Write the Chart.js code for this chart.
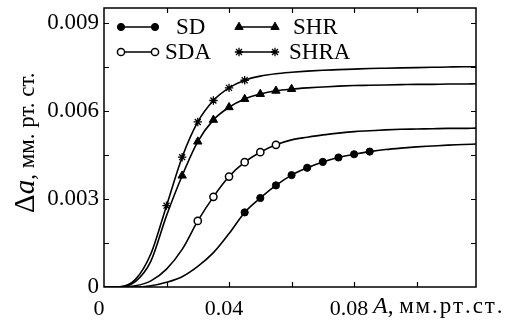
<!DOCTYPE html>
<html>
<head>
<meta charset="utf-8">
<script src="https://cdn.jsdelivr.net/npm/chart.js@4/dist/chart.umd.min.js"></script>
<style>
html,body{margin:0;padding:0;background:#fff;}
#wrap{width:505px;height:324px;}
</style>
</head>
<body>
<div id="wrap"><canvas id="c" width="505" height="324"></canvas></div>
<script>
// ---- data ----
const xValues = [0, 0.005, 0.01, 0.015, 0.02, 0.025, 0.03, 0.035, 0.04, 0.045, 0.05, 0.055, 0.06,
                 0.065, 0.07, 0.075, 0.08, 0.085, 0.09, 0.095, 0.1, 0.105, 0.11, 0.115, 0.119];
const sdValues   = [0, 0, 0, 0.00004, 0.00016, 0.00035, 0.0007, 0.00117, 0.00182, 0.00254, 0.00303, 0.00346, 0.00381,
                    0.00406, 0.00426, 0.00441, 0.00452, 0.00461, 0.00468, 0.00473, 0.00477, 0.0048, 0.00483, 0.00485, 0.00487];
const sdaValues  = [0, 0, 0.00004, 0.00021, 0.00061, 0.00128, 0.00225, 0.00307, 0.00376, 0.00425, 0.00459, 0.00484, 0.00501,
                    0.0051, 0.00518, 0.00524, 0.00529, 0.00532, 0.00535, 0.00537, 0.00538, 0.00539, 0.0054, 0.0054, 0.00541];
const shrValues  = [0, 0, 0.00018, 0.00088, 0.00243, 0.00379, 0.00495, 0.00569, 0.00612, 0.0064, 0.00657, 0.00668, 0.00674,
                    0.00678, 0.00681, 0.00684, 0.00686, 0.00687, 0.00688, 0.00689, 0.0069, 0.0069, 0.00691, 0.00691, 0.00692];
const shraValues = [0, 0.00001, 0.00025, 0.00113, 0.00277, 0.00442, 0.00562, 0.00635, 0.00678, 0.00704, 0.00718, 0.00726, 0.00731,
                    0.00735, 0.00738, 0.0074, 0.00742, 0.00744, 0.00745, 0.00746, 0.00747, 0.00748, 0.00749, 0.0075, 0.0075];
// x-range where each series shows its markers
const sdMarkerRange   = [0.045, 0.085];
const sdaMarkerRange  = [0.03, 0.055];
const shrMarkerRange  = [0.025, 0.06];
const shraMarkerRange = [0.02, 0.045];
const seriesNames = ['SD', 'SDA', 'SHR', 'SHRA'];
const xTickLabels = ['0', '0.04', '0.08'];
const yTickLabels = ['0', '0.003', '0.006', '0.009'];
const xTickMarks = [0.02, 0.04, 0.06, 0.08, 0.1];
const yTickMarks = [0.0015, 0.003, 0.0045, 0.006, 0.0075, 0.009];

// ---- styling ----
const FONT = "'Liberation Serif', 'Times New Roman', serif";
Chart.defaults.font.family = FONT;
Chart.defaults.color = '#000';

const styles = [
  {pointStyle: 'circle', radius: 3.6, bg: '#000', bw: 1},
  {pointStyle: 'circle', radius: 3.6, bg: '#fff', bw: 1.5},
  {pointStyle: 'triangle', radius: 4.8, bg: '#000', bw: 1},
  {pointStyle: 'star', radius: 4.2, bg: '#000', bw: 1.3}
];
const seriesValues = [sdValues, sdaValues, shrValues, shraValues];
const markerRanges = [sdMarkerRange, sdaMarkerRange, shrMarkerRange, shraMarkerRange];

const datasets = seriesNames.map((name, i) => ({
  label: name,
  data: xValues.map((x, j) => ({x: x, y: seriesValues[i][j]})),
  borderColor: '#000',
  borderWidth: 1.6,
  backgroundColor: styles[i].bg,
  pointStyle: styles[i].pointStyle,
  pointBackgroundColor: styles[i].bg,
  pointBorderColor: '#000',
  pointBorderWidth: styles[i].bw,
  pointRadius: (ctx) => {
    const x = xValues[ctx.dataIndex];
    const r = markerRanges[i];
    return (x >= r[0] - 1e-9 && x <= r[1] + 1e-9) ? styles[i].radius : 0;
  },
  pointHoverRadius: 0,
  cubicInterpolationMode: 'monotone',
  fill: false
}));

function drawSpaced(ctx, text, x, y, spacing) {
  for (const ch of text) {
    ctx.fillText(ch, x, y);
    x += ctx.measureText(ch).width + spacing;
  }
  return x;
}

const decorPlugin = {
  id: 'decor',
  afterDatasetsDraw(chart) {
    const ctx = chart.ctx;
    const a = chart.chartArea;
    const xs = chart.scales.x, ys = chart.scales.y;
    ctx.save();
    ctx.strokeStyle = '#000';
    ctx.lineWidth = 1.5;
    ctx.strokeRect(a.left, a.top, a.right - a.left, a.bottom - a.top);
    ctx.lineWidth = 1.2;
    const tl = 5;
    ctx.beginPath();
    xTickMarks.forEach(v => {
      const p = Math.round(xs.getPixelForValue(v)) + 0.5;
      ctx.moveTo(p, a.bottom); ctx.lineTo(p, a.bottom - tl);
      ctx.moveTo(p, a.top); ctx.lineTo(p, a.top + tl);
    });
    yTickMarks.forEach(v => {
      const p = Math.round(ys.getPixelForValue(v)) + 0.5;
      ctx.moveTo(a.left, p); ctx.lineTo(a.left + tl, p);
      ctx.moveTo(a.right, p); ctx.lineTo(a.right - tl, p);
    });
    ctx.stroke();

    // legend
    const rows = [27, 52];
    const cols = [{x1: 121, x2: 155}, {x1: 239, x2: 275}];
    const textX = [176, 165, 293, 289];
    seriesNames.forEach((name, i) => {
      const c = cols[Math.floor(i / 2)];
      const y = rows[i % 2];
      ctx.lineWidth = 1.6;
      ctx.strokeStyle = '#000';
      ctx.beginPath(); ctx.moveTo(c.x1, y); ctx.lineTo(c.x2, y); ctx.stroke();
      [c.x1, c.x2].forEach(px => {
        ctx.fillStyle = styles[i].bg;
        ctx.strokeStyle = '#000';
        ctx.lineWidth = styles[i].bw;
        Chart.helpers.drawPoint(ctx, {pointStyle: styles[i].pointStyle, radius: styles[i].radius, rotation: 0, borderWidth: styles[i].bw}, px, y);
      });
      ctx.fillStyle = '#000';
      ctx.font = '23px ' + FONT;
      ctx.textBaseline = 'middle';
      ctx.textAlign = 'left';
      ctx.fillText(name, textX[i], y + 1);
    });

    // x axis title
    ctx.fillStyle = '#000';
    ctx.textBaseline = 'alphabetic';
    let x = 373;
    const by = 313;
    ctx.font = 'italic 24px ' + FONT;
    ctx.fillText('A', x, by); x += ctx.measureText('A').width;
    ctx.font = '23px ' + FONT;
    ctx.fillText(',', x, by); x += ctx.measureText(', ').width;
    drawSpaced(ctx, 'мм.рт.ст.', x, by, 1.9);

    // y axis title (rotated)
    ctx.translate(34, 213);
    ctx.rotate(-Math.PI / 2);
    let t = 0;
    ctx.font = '29px ' + FONT;
    ctx.fillText('Δ', t, 0); t += ctx.measureText('Δ').width;
    ctx.font = 'italic 29px ' + FONT;
    ctx.fillText('a', t, 0); t += ctx.measureText('a').width;
    ctx.font = '23px ' + FONT;
    ctx.fillText(', мм. рт. ст.', t, 0);
    ctx.restore();
  }
};

new Chart(document.getElementById('c'), {
  type: 'line',
  data: {datasets: datasets},
  options: {
    responsive: false,
    animation: false,
    devicePixelRatio: 1,
    layout: {autoPadding: false, padding: {left: 0, right: 29, top: 8, bottom: 0}},
    plugins: {legend: {display: false}, tooltip: {enabled: false}},
    scales: {
      x: {
        type: 'linear', min: 0, max: 0.119,
        grid: {display: false, drawTicks: false},
        border: {display: false},
        ticks: {
          stepSize: 0.04, includeBounds: false, padding: 9, maxRotation: 0, labelOffset: -5,
          font: {size: 22, family: FONT}, color: '#000',
          callback: (v) => { const i = Math.round(v / 0.04); return xTickLabels[i] !== undefined && Math.abs(v - i * 0.04) < 1e-9 ? xTickLabels[i] : ''; }
        },
        afterFit: (s) => { s.height = 37; s.paddingLeft = 0; s.paddingRight = 0; }
      },
      y: {
        type: 'linear', min: 0, max: 0.0095,
        grid: {display: false, drawTicks: false},
        border: {display: false},
        ticks: {
          stepSize: 0.003, includeBounds: false, padding: 5,
          font: {size: 23, family: FONT}, color: '#000',
          callback: (v) => { const i = Math.round(v / 0.003); return yTickLabels[i] !== undefined && Math.abs(v - i * 0.003) < 1e-9 ? yTickLabels[i] : ''; }
        },
        afterFit: (s) => { s.width = 104; s.paddingTop = 0; s.paddingBottom = 0; }
      }
    }
  },
  plugins: [decorPlugin]
});
</script>
</body>
</html>
